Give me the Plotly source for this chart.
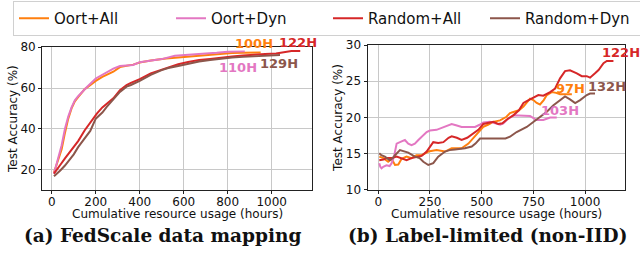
import plotly.graph_objects as go

# ---------------- data: (a) FedScale data mapping ----------------
a_oort_all_x = [10, 25, 45, 60, 75, 90, 105, 120, 135, 150, 170, 200, 230, 250, 280, 310, 340, 370, 400, 450, 520, 570, 620, 670, 720, 770, 820, 870, 950]
a_oort_all_y = [18.5, 23, 30, 38, 45, 50, 53.5, 55.5, 57.5, 59.5, 61, 63.5, 65.5, 66.5, 68, 70.3, 70.8, 71.5, 72.5, 73.5, 74.5, 75, 75.5, 75.8, 76.5, 77, 77.2, 77.3, 77.4]

a_oort_dyn_x = [10, 25, 45, 60, 75, 90, 105, 120, 140, 160, 200, 230, 250, 280, 310, 340, 370, 400, 450, 500, 560, 600, 650, 700, 750, 800, 878]
a_oort_dyn_y = [18, 24, 32, 40, 46, 50.5, 54, 56, 58.5, 60.5, 64.7, 66.5, 68, 69.5, 70.8, 71, 71.3, 72.7, 73.3, 74.2, 75.8, 76.2, 76.5, 77, 77.3, 77.8, 78]

a_rand_all_x = [10, 25, 40, 60, 80, 100, 120, 150, 175, 205, 230, 250, 280, 310, 340, 360, 400, 450, 500, 530, 575, 620, 670, 720, 770, 820, 870, 920, 970, 1020, 1060, 1090, 1130]
a_rand_all_y = [18, 20.5, 22.5, 25.5, 28.5, 31, 34, 39.3, 43, 47.5, 50.5, 52.4, 55, 59, 61.5, 62.5, 64.4, 67.2, 69, 69.8, 71.7, 72.8, 73.8, 74.3, 75, 75.5, 76, 76.5, 76.7, 77, 77.8, 78.2, 78.2]

a_rand_dyn_x = [10, 25, 40, 60, 80, 100, 120, 150, 175, 200, 230, 250, 280, 310, 340, 360, 400, 450, 500, 530, 575, 620, 670, 720, 770, 820, 870, 920, 970, 1038]
a_rand_dyn_y = [16.7, 18, 19.7, 22, 24.5, 27.5, 31, 35.2, 39, 45, 48, 50.8, 54.5, 58.1, 60.7, 61.5, 63.5, 66.5, 68.8, 69.8, 70.8, 72, 73, 73.8, 74.5, 75, 75.3, 75.6, 76, 76.2]

# ---------------- data: (b) Label-limited (non-IID) ----------------
b_oort_all_x = [5, 25, 48, 65, 81, 97, 113, 137, 161, 185, 210, 242, 282, 323, 355, 403, 436, 460, 484, 508, 530, 556, 589, 620, 637, 660, 680, 702, 734, 750, 766, 782, 800, 815, 839, 860, 879, 910, 936]
b_oort_all_y = [14.6, 14.4, 13.9, 14.3, 13.45, 13.5, 14.3, 14.6, 14.4, 14.8, 14.8, 15.3, 15.5, 15.3, 15.75, 15.75, 16.4, 17.2, 18.0, 18.7, 19.0, 19.4, 19.6, 20.1, 20.6, 20.8, 21.0, 21.5, 22.6, 22.4, 22.0, 21.8, 22.4, 23.1, 23.5, 23.4, 23.2, 23.2, 23.2]

b_oort_dyn_x = [5, 10, 16, 24, 40, 55, 65, 76, 89, 100, 113, 129, 145, 161, 177, 194, 210, 234, 250, 282, 310, 340, 355, 380, 403, 430, 468, 490, 508, 540, 565, 589, 605, 621, 653, 680, 702, 734, 766, 798, 831, 863]
b_oort_dyn_y = [13.7, 13.2, 13.0, 13.2, 13.4, 13.3, 13.7, 14.6, 16.4, 16.5, 16.7, 16.9, 16.4, 16.2, 16.4, 16.9, 17.4, 18.0, 18.2, 18.3, 18.6, 18.9, 19.1, 18.9, 18.7, 18.7, 18.7, 19.0, 19.3, 19.4, 19.2, 19.0, 19.2, 19.65, 20.3, 20.3, 20.3, 20.2, 19.65, 19.65, 20.0, 20.0]

b_rand_all_x = [5, 25, 40, 65, 89, 113, 137, 161, 185, 210, 234, 250, 266, 290, 315, 340, 355, 380, 403, 430, 452, 470, 484, 508, 530, 556, 580, 600, 625, 653, 680, 702, 720, 742, 774, 798, 831, 855, 879, 903, 927, 960, 984, 1008, 1024, 1048, 1065, 1089, 1105, 1137]
b_rand_all_y = [14.1, 14.2, 14.4, 14.4, 14.6, 14.4, 14.1, 14.4, 14.5, 14.7, 15.3, 16.0, 16.6, 16.5, 16.6, 17.2, 17.4, 17.2, 16.9, 17.2, 17.6, 18.0, 18.3, 19.1, 19.2, 19.4, 19.1, 19.2, 19.8, 20.3, 21.0, 22.0, 22.3, 22.6, 23.1, 23.0, 23.5, 24.0, 25.4, 26.4, 26.5, 26.1, 25.7, 25.7, 25.5, 26.1, 26.55, 27.5, 27.8, 27.8]

b_rand_dyn_x = [5, 15, 32, 56, 70, 81, 105, 120, 145, 177, 200, 218, 242, 266, 290, 323, 345, 371, 419, 452, 470, 492, 520, 540, 565, 589, 615, 637, 669, 718, 750, 782, 815, 847, 879, 903, 927, 952, 976, 1008, 1024, 1048]
b_rand_dyn_y = [15.06, 14.8, 14.6, 14.1, 14.4, 14.8, 15.5, 15.4, 15.15, 14.6, 14.4, 13.9, 13.45, 13.7, 14.6, 15.3, 15.5, 15.6, 15.75, 16.0, 16.4, 17.1, 17.1, 17.0, 17.0, 17.0, 17.1, 17.35, 18.0, 18.7, 19.4, 20.1, 20.8, 21.7, 22.4, 22.9, 22.5, 22.0, 22.4, 23.1, 23.3, 23.3]

series_names = ["Oort+All", "Oort+Dyn", "Random+All", "Random+Dyn"]
series_colors = ["#ff7f0e", "#e377c2", "#d62728", "#8c564b"]

# end-of-run labels: x in data units, y in paper fraction (some sit above the axes)
a_labels = ["100H", "110H", "122H", "129H"]
a_label_x = [919, 848, 1120, 1032]
a_label_y = [0.8268, 0.735, 0.8319, 0.751]
b_labels = ["97H", "103H", "122H", "132H"]
b_label_x = [930, 879, 1174, 1105]
b_label_y = [0.652, 0.564, 0.7925, 0.661]

x_title = "Cumulative resource usage (hours)"
y_title = "Test Accuracy (%)"
panel_titles = ["(a) FedScale data mapping", "(b) Label-limited (non-IID)"]

a_xticks = [0, 200, 400, 600, 800, 1000]
a_yticks = [20, 40, 60, 80]
b_xticks = [0, 250, 500, 750, 1000]
b_yticks = [10, 15, 20, 25, 30]

# ---------------- figure ----------------
fig = go.Figure()
a_data = [(a_oort_all_x, a_oort_all_y), (a_oort_dyn_x, a_oort_dyn_y),
          (a_rand_all_x, a_rand_all_y), (a_rand_dyn_x, a_rand_dyn_y)]
b_data = [(b_oort_all_x, b_oort_all_y), (b_oort_dyn_x, b_oort_dyn_y),
          (b_rand_all_x, b_rand_all_y), (b_rand_dyn_x, b_rand_dyn_y)]

for (xs, ys), name, col in zip(a_data, series_names, series_colors):
    fig.add_trace(go.Scatter(x=xs, y=ys, mode="lines", name=name,
                             line=dict(color=col, width=2), xaxis="x", yaxis="y"))
for (xs, ys), name, col in zip(b_data, series_names, series_colors):
    fig.add_trace(go.Scatter(x=xs, y=ys, mode="lines", name=name,
                             showlegend=False,
                             line=dict(color=col, width=2), xaxis="x2", yaxis="y2"))

tick_font = dict(family="DejaVu Sans", size=12, color="#111")
axis_common = dict(showline=True, mirror=True, linecolor="#222", linewidth=1.3,
                   ticks="outside", ticklen=3, tickcolor="#222",
                   showgrid=True, gridcolor="#c8c8c8", gridwidth=1,
                   zeroline=False, tickfont=tick_font)

fig.update_layout(
    width=640, height=254,
    margin=dict(l=0, r=0, t=0, b=0, autoexpand=False),
    paper_bgcolor="white", plot_bgcolor="white",
    xaxis=dict(domain=[0.0661, 0.487], range=[-43, 1182], anchor="y",
               tickvals=a_xticks, ticklabelstandoff=-3, **axis_common),
    yaxis=dict(domain=[0.252, 0.8138], range=[10, 80], anchor="x",
               tickvals=a_yticks,
               title=dict(text=y_title, font=tick_font, standoff=0), **axis_common),
    xaxis2=dict(domain=[0.5745, 0.9766], range=[-51, 1193], anchor="y2",
                tickvals=b_xticks, ticklabelstandoff=-3, **axis_common),
    yaxis2=dict(domain=[0.252, 0.8228], range=[10, 30], anchor="x2",
                tickvals=b_yticks,
                title=dict(text=y_title, font=tick_font, standoff=0), **axis_common),
    legend=dict(orientation="h", x=13 / 640, xanchor="left", y=1 - 1 / 254, yanchor="top",
                bgcolor="white", bordercolor="#d0d0d0", borderwidth=1,
                font=dict(family="DejaVu Sans", size=15, color="#111"),
                entrywidth=112, entrywidthmode="pixels"),
    showlegend=True,
)

annotations = []
for txt, x, y, col in zip(a_labels, a_label_x, a_label_y, series_colors):
    annotations.append(dict(text=f"<b>{txt}</b>", x=x, y=y, xref="x", yref="paper", showarrow=False,
                            yanchor="middle",
                            font=dict(family="DejaVu Sans", size=13, color=col)))
for txt, x, y, col in zip(b_labels, b_label_x, b_label_y, series_colors):
    annotations.append(dict(text=f"<b>{txt}</b>", x=x, y=y, xref="x2", yref="paper", showarrow=False,
                            yanchor="middle",
                            font=dict(family="DejaVu Sans", size=13, color=col)))
# x-axis titles (placed under each panel)
for cx in [177 / 640, 496 / 640]:
    annotations.append(dict(text=x_title, x=cx, y=1 - 214 / 254, xref="paper", yref="paper",
                            xanchor="center", yanchor="middle", showarrow=False,
                            font=tick_font))
for txt, cx in zip(panel_titles, [162 / 640, 487 / 640]):
    annotations.append(dict(text=f"<b>{txt}</b>", x=cx, y=1 - 235 / 254, xref="paper", yref="paper",
                            xanchor="center", yanchor="middle", showarrow=False,
                            font=dict(family="DejaVu Serif", size=18.5, color="#111")))
fig.update_layout(annotations=annotations)

fig.write_html("out.html", config={"displayModeBar": False},
               post_script="document.body.style.margin='0';document.body.style.padding='0';")
